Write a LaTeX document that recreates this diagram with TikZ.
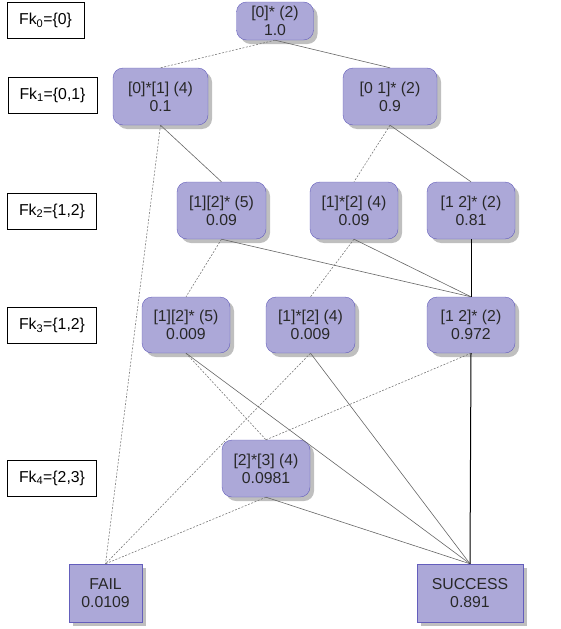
\documentclass[tikz,border=0pt]{standalone}
\usepackage{fontspec}
\setmainfont{Liberation Sans}
\usetikzlibrary{shadows}
\definecolor{boxfill}{RGB}{172,168,216}
\definecolor{boxline}{RGB}{100,94,188}
\definecolor{boxtext}{RGB}{40,40,40}
\begin{document}
\begin{tikzpicture}
          [x=1pt,y=-1pt,
           state/.style={draw=boxline, fill=boxfill, rectangle, rounded corners = 10pt, inner sep = 0pt, minimum height = 57pt, minimum width = 88pt, align = center, text=boxtext, font=\fontsize{15.8}{18}\selectfont, drop shadow={shadow xshift=4pt, shadow yshift=-4pt, fill=black!25, opacity=1}},
           final/.style={state, rounded corners = 0pt, minimum height = 58pt},
           level/.style={draw, rectangle, inner sep = 0pt, minimum height = 36pt, minimum width = 89pt, font=\fontsize{15.8}{18}\selectfont},
           failedge/.style={black!55, line width=.55pt, dash pattern=on 2pt off 1.5pt},
           okedge/.style={black!60, line width=.6pt},
           mainedge/.style={black, line width=1pt}]
        \useasboundingbox (0,0) rectangle (560,629);
        \node[level, minimum width = 77pt] (k0) at (45.5,20.5) {Fk\textsubscript{0}=\{0\}};
        \node[level] (k1) at (52.5,95) {Fk\textsubscript{1}=\{0,1\}};
        \node[level] (k2) at (52,211) {Fk\textsubscript{2}=\{1,2\}};
        \node[level] (k3) at (52,325.5) {Fk\textsubscript{3}=\{1,2\}};
        \node[level] (k4) at (52,478) {Fk\textsubscript{4}=\{2,3\}};

        \node[state, minimum width = 77pt, minimum height = 38pt] (n0) at (275,21) {[0]* (2) \\ 1.0};
        \node[state, minimum width = 95pt] (n01) at (160.5,96.5) {[0]*[1] (4) \\ 0.1};
        \node[state, minimum width = 94pt] (n02) at (390,96.5) {[0 1]* (2) \\ 0.9};
        \node[state, minimum width = 89pt] (n21) at (221.5,210.5) {[1][2]* (5) \\ 0.09};
        \node[state] (n22) at (354,210.5) {[1]*[2] (4) \\ 0.09};
        \node[state] (n23) at (471,210.5) {[1 2]* (2) \\ 0.81};
        \node[state, minimum height = 56pt] (n31) at (186,325) {[1][2]* (5) \\ 0.009};
        \node[state, minimum width = 89pt, minimum height = 56pt] (n32) at (310.5,325) {[1]*[2] (4) \\ 0.009};
        \node[state, minimum height = 56pt] (n33) at (471,325) {[1 2]* (2) \\ 0.972};
        \node[state] (n4) at (266,468.5) {[2]*[3] (4) \\ 0.0981};
        \node[final, minimum width = 73pt] (fail) at (105.5,593) {FAIL \\ 0.0109};
        \node[final, minimum width = 106pt] (succ) at (470,593) {SUCCESS \\ 0.891};

      \foreach \from/\to in {n0/n01, n01/fail, n02/n22, n21/n31, n22/n32, n31/n4, n32/fail, n33/n4, n4/fail}
        \draw[failedge] (\from.south) -- (\to.north);
      \foreach \from/\to in {n0/n02, n01/n21, n02/n23, n21/n33, n22/n33, n31/succ, n32/succ, n4/succ}
        \draw[okedge] (\from.south) -- (\to.north);
      \foreach \from/\to in {n23/n33, n33/succ}
        \draw[mainedge] (\from.south) -- (\to.north);
      \end{tikzpicture}
\end{document}
